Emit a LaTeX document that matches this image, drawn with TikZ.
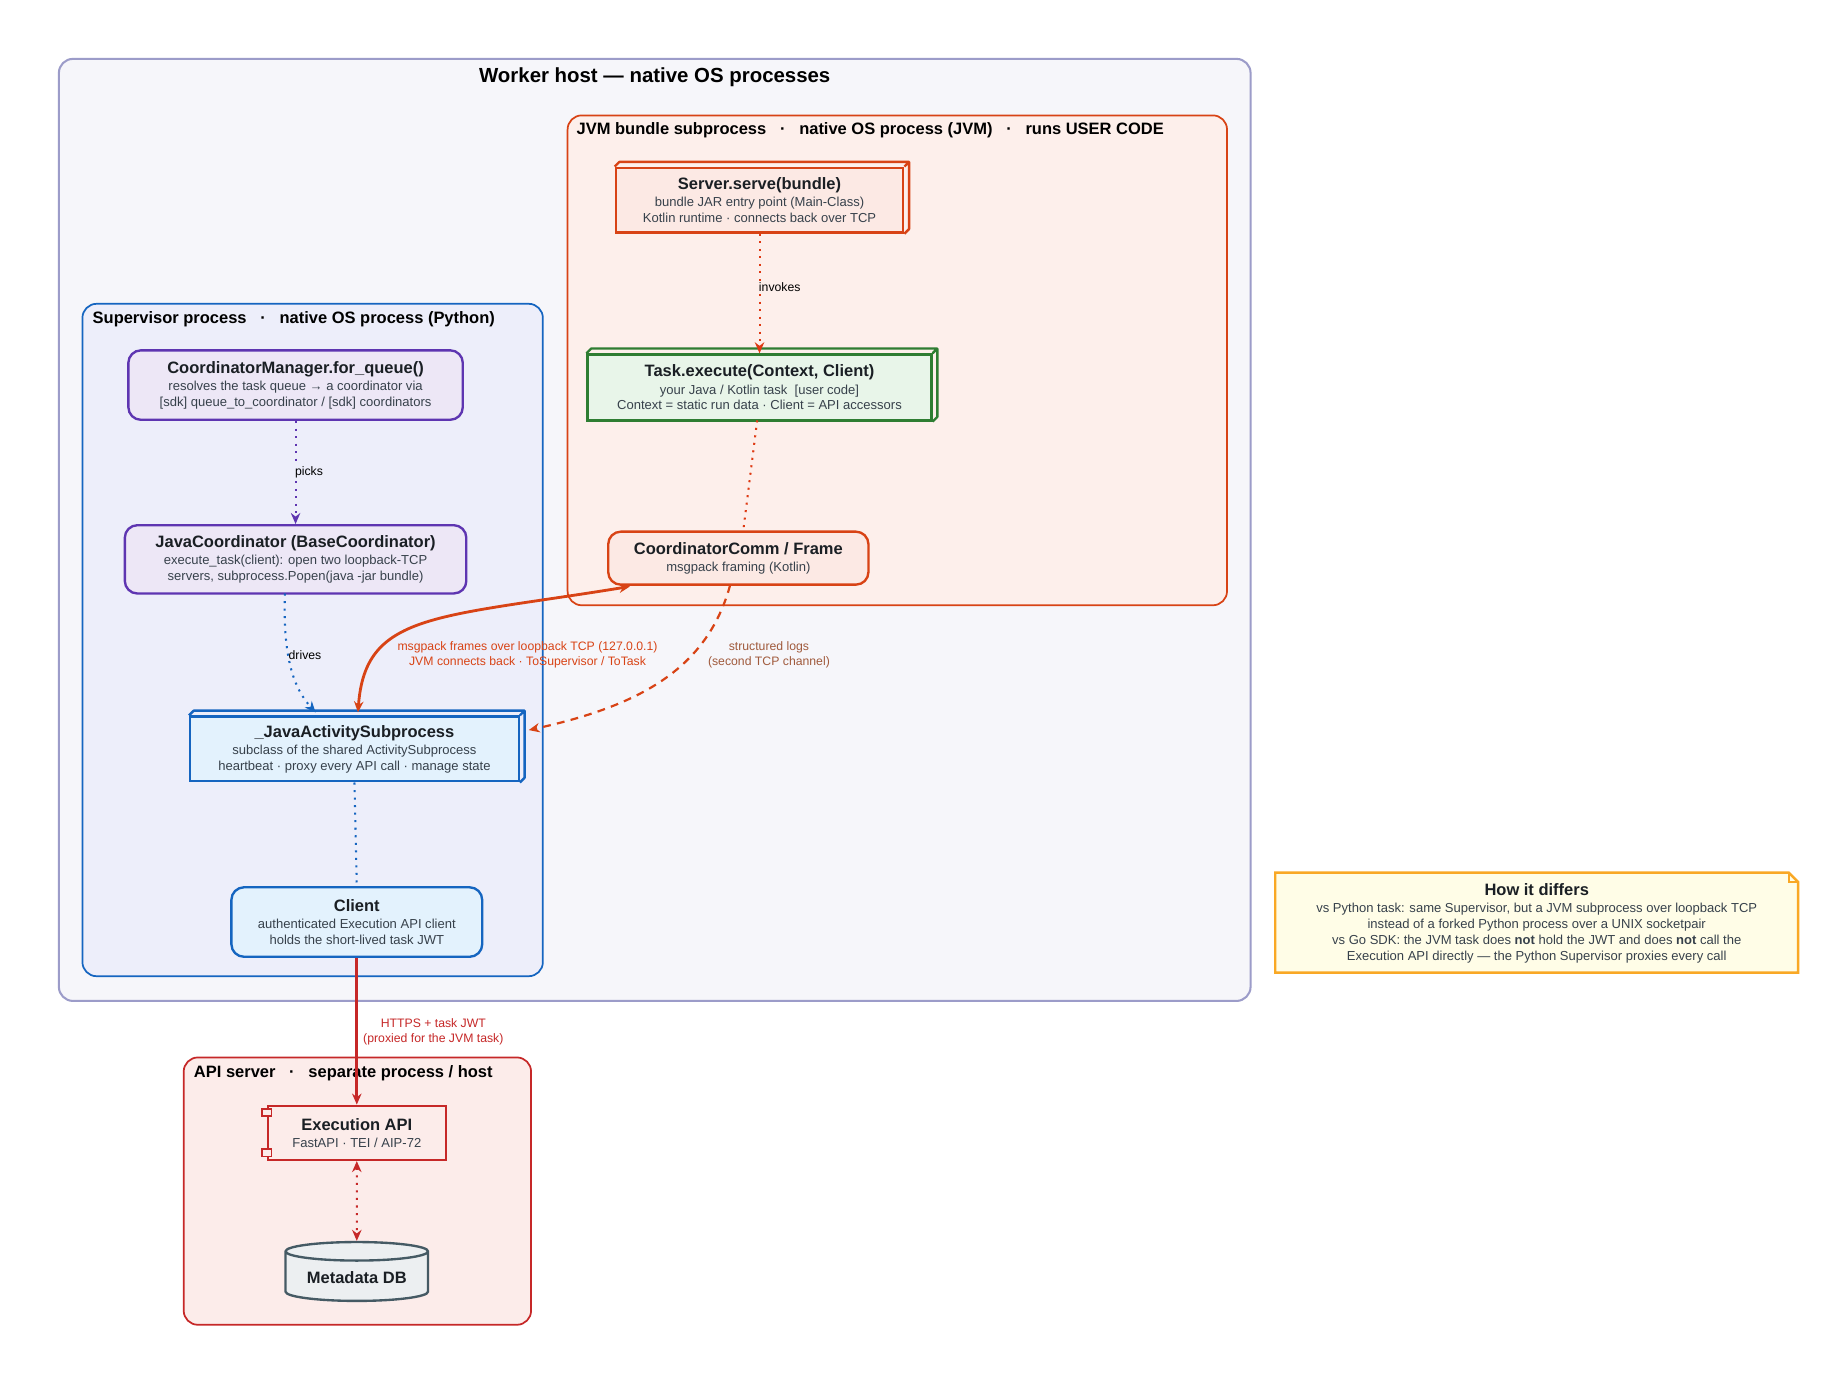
\documentclass[tikz,border=0pt]{standalone}
\usepackage{fontspec}
\setmainfont{Liberation Sans}
\usetikzlibrary{shapes.geometric,arrows.meta,calc}
\definecolor{orj}{HTML}{D84315}
\definecolor{grn}{HTML}{2E7D32}
\definecolor{pur}{HTML}{5E35B1}
\definecolor{blu}{HTML}{1565C0}
\definecolor{rd}{HTML}{C62828}
\definecolor{txt}{HTML}{1A1F24}
\definecolor{sub}{HTML}{37414B}
\newcommand{\tl}[1]{{\fontsize{10.5}{12}\selectfont\bfseries #1}}
\newcommand{\sbl}[1]{{\fontsize{8.3}{9.8}\selectfont\color{sub}#1}}
\tikzset{
 x=0.75pt,y=-0.75pt,
 grp/.style={rounded corners=9pt,line width=1.1pt},
 glabel/.style={anchor=west,font=\fontsize{10.5}{12}\selectfont\bfseries,text=black},
 bx/.style={line width=1.5pt,align=center,text=txt,inner sep=2pt},
 rbx/.style={bx,rounded corners=8pt},
 elab/.style={font=\fontsize{7.8}{9.3}\selectfont,align=center},
 dotl/.style={line width=1.3pt,dash pattern=on 1.3pt off 3.5pt},
 tip/.style={-{Stealth[length=7pt,width=6pt]}},
 btip/.style={{Stealth[length=7pt,width=6pt]}-{Stealth[length=7pt,width=6pt]}},
}
\begin{document}
\begin{tikzpicture}
\useasboundingbox[fill=white] (0,0) rectangle (1560,1170);
% groups
\draw[grp,draw=gray!70!blue!60,fill={rgb,255:red,246;green,246;blue,250},line width=1.3pt] (50,50) rectangle (1062,850);
\node[font=\fontsize{13}{15}\selectfont\bfseries] (wt) at (556,66) {Worker host — native OS processes};
\draw[grp,draw=orj,fill={rgb,255:red,253;green,239;blue,235}] (482,98) rectangle (1042,514);
\node[glabel] (jl) at (485,111) {JVM bundle subprocess \ \ · \ \ native OS process (JVM) \ \ · \ \ runs USER CODE};
\draw[grp,draw=blu,fill={rgb,255:red,237;green,238;blue,250}] (70,258) rectangle (461,829);
\node[glabel] (sl) at (74,271) {Supervisor process \ \ · \ \ native OS process (Python)};
\draw[grp,draw=rd,fill={rgb,255:red,252;green,236;blue,234}] (156,898) rectangle (451,1125);
\node[glabel] (al) at (160,911) {API server \ \ · \ \ separate process / host};
% nodes
\node[bx,draw=orj,fill={rgb,255:red,252;green,233;blue,228},minimum width=244*0.75pt,minimum height=55*0.75pt] (srv) at (645,170) {\tl{Server.serve(bundle)}\\[-1pt]\sbl{bundle JAR entry point (Main-Class)}\\[-2pt]\sbl{Kotlin runtime · connects back over TCP}};
\draw[orj,line width=1.5pt,line join=round] (srv.north west) -- ++(4,-4) -- ($(srv.north east)+(4,-4)$) -- ($(srv.south east)+(4,-4)$) -- (srv.south east) (srv.north east) -- ++(4,-4);
\node[bx,draw=grn,fill={rgb,255:red,232;green,245;blue,233},minimum width=292*0.75pt,minimum height=56*0.75pt] (task) at (645,329) {\tl{Task.execute(Context, Client)}\\[-1pt]\sbl{your Java / Kotlin task \ [user code]}\\[-2pt]\sbl{Context = static run data · Client = API accessors}};
\draw[grn,line width=1.5pt,line join=round] (task.north west) -- ++(4,-4) -- ($(task.north east)+(4,-4)$) -- ($(task.south east)+(4,-4)$) -- (task.south east) (task.north east) -- ++(4,-4);
\node[rbx,draw=orj,fill={rgb,255:red,252;green,233;blue,228},minimum width=221*0.75pt,minimum height=45*0.75pt] (cc) at (627,474) {\tl{CoordinatorComm / Frame}\\[-1pt]\sbl{msgpack framing (Kotlin)}};
\node[rbx,draw=pur,fill={rgb,255:red,237;green,231;blue,246},minimum width=284*0.75pt,minimum height=59*0.75pt] (cm) at (251,327) {\tl{CoordinatorManager.for\_queue()}\\[-1pt]\sbl{resolves the task queue → a coordinator via}\\[-2pt]\sbl{[sdk] queue\_to\_coordinator / [sdk] coordinators}};
\node[rbx,draw=pur,fill={rgb,255:red,237;green,231;blue,246},minimum width=290*0.75pt,minimum height=58*0.75pt] (jc) at (251,475) {\tl{JavaCoordinator (BaseCoordinator)}\\[-1pt]\sbl{execute\_task(client): open two loopback-TCP}\\[-2pt]\sbl{servers, subprocess.Popen(java -jar bundle)}};
\node[bx,draw=blu,fill={rgb,255:red,227;green,242;blue,253},minimum width=279*0.75pt,minimum height=55*0.75pt] (jas) at (301,636) {\tl{\_JavaActivitySubprocess}\\[-1pt]\sbl{subclass of the shared ActivitySubprocess}\\[-2pt]\sbl{heartbeat · proxy every API call · manage state}};
\draw[blu,line width=1.5pt,line join=round] (jas.north west) -- ++(4,-4) -- ($(jas.north east)+(4,-4)$) -- ($(jas.south east)+(4,-4)$) -- (jas.south east) (jas.north east) -- ++(4,-4);
\node[rbx,draw=blu,fill={rgb,255:red,227;green,242;blue,253},minimum width=213*0.75pt,minimum height=59*0.75pt] (cl) at (303,783) {\tl{Client}\\[-1pt]\sbl{authenticated Execution API client}\\[-2pt]\sbl{holds the short-lived task JWT}};
\node[bx,draw=rd,fill={rgb,255:red,252;green,236;blue,234},minimum width=151*0.75pt,minimum height=46*0.75pt] (api) at (303,962) {\tl{Execution API}\\[-1pt]\sbl{FastAPI · TEI / AIP-72}};
\draw[rd,line width=1.1pt,fill={rgb,255:red,252;green,236;blue,234}] ($(api.north west)+(-4,4)$) rectangle ++(8,6);
\draw[rd,line width=1.1pt,fill={rgb,255:red,252;green,236;blue,234}] ($(api.south west)+(-4,-10)$) rectangle ++(8,6);
\node[cylinder,shape border rotate=90,aspect=0.18,draw={rgb,255:red,69;green,90;blue,100},line width=1.5pt,fill={rgb,255:red,236;green,239;blue,241},minimum width=121*0.75pt,minimum height=50*0.75pt,text=txt,inner sep=1pt] (db) at (303,1085) {\tl{Metadata DB}};
% note
\draw[line width=1.5pt,draw={rgb,255:red,249;green,168;blue,37},fill={rgb,255:red,255;green,253;blue,231}] (1083,741) -- (1519,741) -- (1527,749) -- (1527,826) -- (1083,826) -- cycle;
\draw[line width=1pt,draw={rgb,255:red,249;green,168;blue,37}] (1519,741) -- (1519,749) -- (1527,749);
\node[align=center,text=txt,inner sep=0pt] (note) at (1305,784) {\tl{How it differs}\\[-1pt]\sbl{vs Python task: same Supervisor, but a JVM subprocess over loopback TCP}\\[-2pt]\sbl{instead of a forked Python process over a UNIX socketpair}\\[-2pt]\sbl{vs Go SDK: the JVM task does \textbf{not} hold the JWT and does \textbf{not} call the}\\[-2pt]\sbl{Execution API directly — the Python Supervisor proxies every call}};
% edges
\draw[dotl,tip,draw=orj!85!red] (srv.south) -- node[elab,right,pos=0.45,xshift=-2pt,fill={rgb,255:red,253;green,239;blue,235},inner sep=1pt] {invokes} (task.north);
\draw[dotl,draw=orj!85!red] (643,357) -- (631,452);
\draw[dotl,tip,draw=pur] (cm.south) -- node[elab,right,pos=0.5,xshift=-2pt,fill={rgb,255:red,237;green,238;blue,250},inner sep=1pt] {picks} (jc.south|-jc.north);
\draw[dotl,tip,draw=blu] (242,504) .. controls (240,560) and (250,585) .. (268,605);
\node[elab] (drv) at (259,556) {drives};
\draw[dotl,draw=blu] (jas.south) -- (cl.north);
\draw[btip,draw=orj,line width=1.8pt] (304,605) .. controls (310,520) and (370,525) .. (535,498);
\node[elab,text=orj] (l1) at (448,556) {msgpack frames over loopback TCP (127.0.0.1)\\JVM connects back · ToSupervisor / ToTask};
\draw[tip,draw=orj,line width=1.4pt,dash pattern=on 5pt off 4pt] (620,497) .. controls (600,570) and (540,600) .. (449,620);
\node[elab,text={rgb,255:red,160;green,90;blue,60}] (l2) at (653,556) {structured logs\\(second TCP channel)};
\draw[tip,draw=rd,line width=1.8pt] (cl.south) -- (api.north);
\node[elab,text=rd] (l3) at (368,876) {HTTPS + task JWT\\(proxied for the JVM task)};
\draw[dotl,btip,draw=rd] (api.south) -- (db.north);
\end{tikzpicture}
\end{document}
